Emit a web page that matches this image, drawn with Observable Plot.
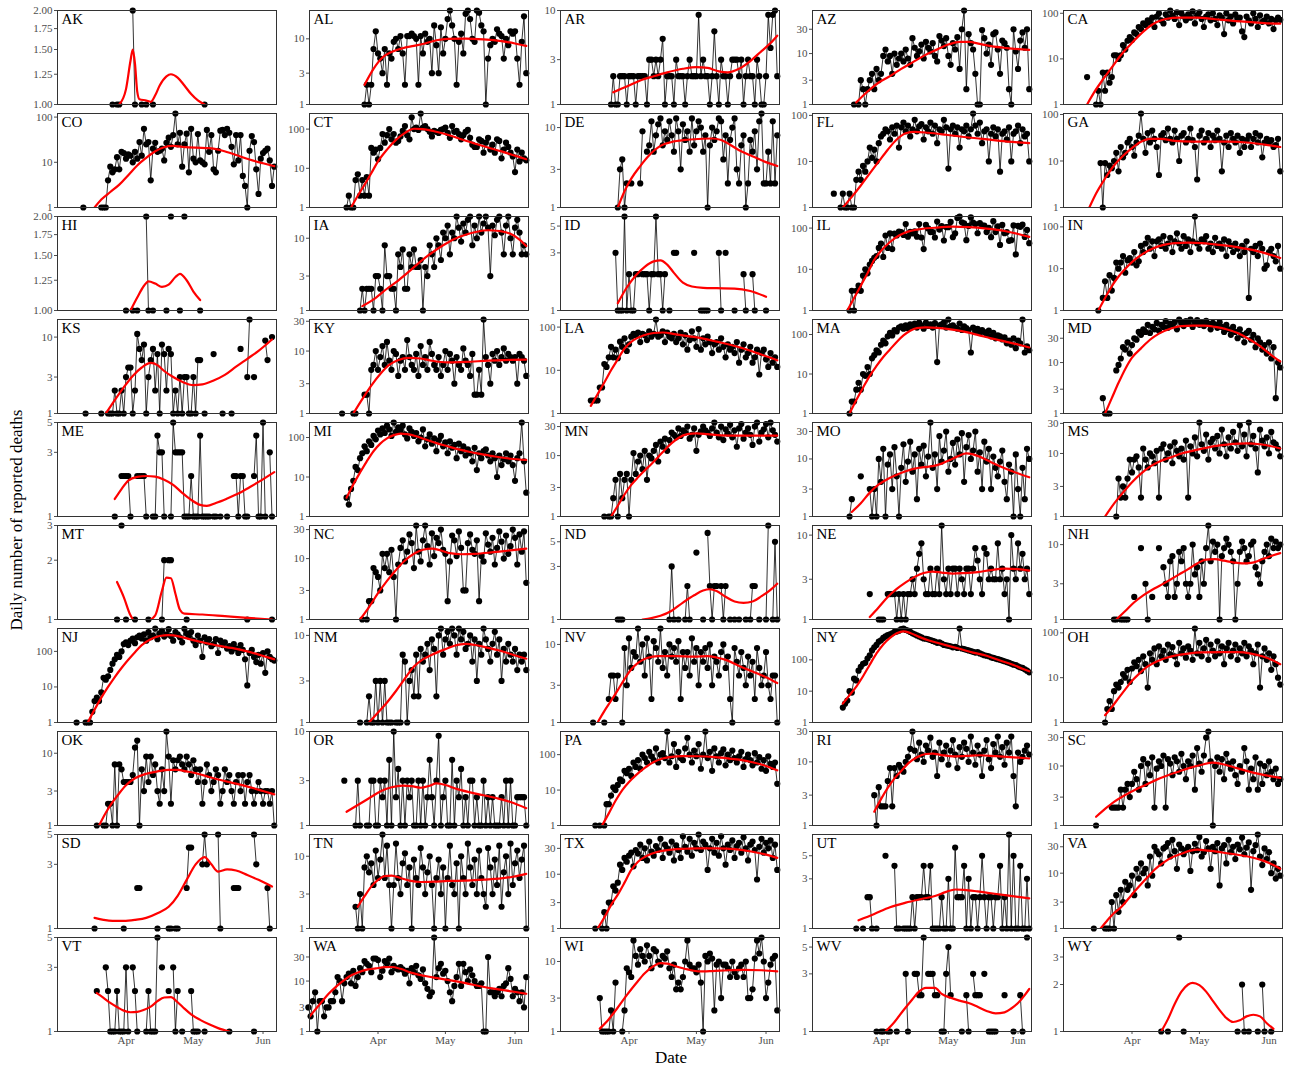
<!DOCTYPE html>
<html><head><meta charset="utf-8">
<script src="https://cdn.jsdelivr.net/npm/d3@7"></script>
<script src="https://cdn.jsdelivr.net/npm/@observablehq/plot@0.6"></script>
<style>
body{margin:0;background:#fff;}
#chart{position:relative;width:1294px;height:1072px;font-family:"Liberation Serif","DejaVu Serif",serif;}
.panel{position:absolute;}
.ytitle{position:absolute;left:17px;top:520px;transform:translate(-50%,-50%) rotate(-90deg);font-size:17px;white-space:nowrap;color:#000;}
.xtitle{position:absolute;left:671px;top:1058px;transform:translate(-50%,-50%);font-size:17px;color:#000;}
</style></head><body><div id="chart"></div>
<script>
const STATES = ["AK","AL","AR","AZ","CA","CO","CT","DE","FL","GA","HI","IA","ID","IL","IN","KS","KY","LA","MA","MD","ME","MI","MN","MO","MS","MT","NC","ND","NE","NH","NJ","NM","NV","NY","OH","OK","OR","PA","RI","SC","SD","TN","TX","UT","VA","VT","WA","WI","WV","WY"];
// first week (Sunday-aligned, week 0 = Mar 1-7 2020) of each daily series
const START_WEEK = [3,3,3,2,1, 1,2,3,1,2, 4,3,3,2,2, 1,2,2,2,2, 3,2,2,2,3, 3,3,3,3,3, 1,3,2,2,2, 2,2,2,4,2, 2,3,2,2,2, 2,0,2,4,6];
const X_TICK_LABELS = ["Apr","May","Jun"];
const TICKS_FRAC = [1,1.25,1.5,1.75,2];
const TICKS_123 = [1,2,3];
const TICKS_135 = [1,3,5];
const TICKS_1_3_10 = [1,3,10];
const TICKS_1_3_10_30 = [1,3,10,30];
const TICKS_1_10_100 = [1,10,100];

// daily reported deaths (0 = no point), 7 values per week
const AK = [0,0,0,0,1,0,1, 1,0,0,0,0,0,2, 1,0,0,1,0,1,0, 0,1,0,0,0,0,0, 0,0,0,0,0,0,0, 0,0,0,0,0,0,0, 0,0,0,1,0,0,0];
const AL = [0,0,0,0,1,2,1, 2,7,13,6,5,3,7, 2,6,5,9,10,7,11, 6,2,11,11,12,11,10, 2,11,6,12,9,10,3, 16,8,3,15,6,10,20, 27,16,10,2,9,12,6, 24,27,20,10,9,27,25, 16,13,1,5,8,10,9, 14,12,11,5,10,8,13, 12,13,5,2,9,22,3];
const AR = [0,0,1,2,1,1,2, 2,2,1,2,2,2,1, 2,2,2,2,1,3,3, 2,3,2,3,5,1,2, 2,2,1,3,2,2,2, 1,2,3,2,2,2,9, 2,3,2,2,1,2,6, 2,1,3,2,2,1,2, 3,3,3,2,3,1,2, 3,2,2,1,3,2,1, 1,2,9,4,9,10,2];
const AZ = [0,0,0,0,0,1,0, 1,3,2,1,2,3,4, 2,5,3,4,9,12,7, 9,4,10,6,8,10,7, 12,8,6,20,13,9,11, 15,8,17,13,11,16,9, 7,22,18,14,20,9,6, 16,12,21,5,30,70,2, 24,16,12,4,1,1,29, 20,10,15,6,24,26,12, 4,18,16,13,2,1,30, 11,5,18,26,13,30,2];
const CA = [0,0,0,0,4,0,0, 0,1,2,1,5,2,5, 3,4,12,12,10,12,20, 16,25,30,26,38,35,50, 45,60,55,70,62,80,50, 85,100,70,60,95,80,115, 90,75,105,55,100,85,70, 95,80,110,60,90,105,75, 50,85,95,70,100,75,55, 90,80,35,100,70,85,60, 95,75,80,40,30,85,70, 60,100,75,50,90,65,70, 85,60,75,45,70,80,72];
const CO = [0,0,0,0,0,1,0, 0,0,0,0,0,0,1, 1,1,4,8,6,7,13, 7,17,16,12,15,14,10, 17,12,28,14,55,25,28, 4,20,27,17,18,20,11, 27,35,22,40,120,25,45, 8,25,43,6,55,12,10, 42,11,10,9,52,17,40, 7,6,18,50,52,40,55, 45,22,9,40,11,40,5, 3,1,18,38,28,7,2, 12,16,18,20,11,3,8];
const CT = [0,0,0,1,2,1,1, 5,7,2,5,2,6,2, 33,25,30,17,33,75,45, 70,100,55,75,45,50,65, 90,120,70,55,200,100,110, 95,250,110,120,100,85,65, 90,85,80,95,100,110,80, 60,120,85,90,75,55,70, 85,95,60,40,35,35,55, 50,25,45,60,30,40,25, 55,50,18,30,45,35,25, 20,8,30,15,25,18,16];
const DE = [0,0,0,0,0,1,3, 4,1,2,0,2,0,0, 0,2,9,0,5,6,12, 5,8,11,13,6,9,7, 12,8,5,13,9,3,11, 7,9,5,13,6,9,12, 10,5,8,1,6,10,7, 9,13,12,4,8,2,7, 10,13,3,2,6,8,1, 2,7,5,9,3,12,15, 2,2,5,2,12,2,8];
const FL = [0,0,0,2,0,0,1, 2,1,1,2,1,1,4, 6,4,8,6,10,20,12, 18,10,25,35,40,50,45, 30,55,40,60,20,55,70, 45,60,35,50,80,45,58, 65,30,55,45,70,40,60, 25,50,45,80,55,7,50, 60,40,55,20,50,45,60, 35,50,110,60,40,70,25, 45,50,10,40,55,35,50, 6,40,45,30,55,10,40, 45,60,25,50,35,40,10];
const GA = [0,0,0,9,1,9,5, 8,7,10,15,6,20,12, 15,25,30,20,13,25,35, 105,30,15,40,25,45,30, 20,5,35,40,28,50,30, 25,45,30,10,35,40,25, 30,50,28,20,4,35,45, 25,30,40,20,35,28,45, 30,6,25,35,20,40,30, 25,35,15,30,20,28,35, 20,30,40,25,35,12,25, 30,25,28,20,22,30,6];
const HI = [0,0,0,1,0,0,1, 0,1,0,0,0,2,1, 0,1,0,0,0,0,0, 1,0,2,0,0,0,1, 0,2,0,0,0,0,0, 0,1,0,0,0,0,0];
const IA = [0,0,1,2,1,2,2, 2,1,3,3,2,1,8, 3,3,2,2,1,6,4, 7,2,2,6,4,7,4, 4,5,1,4,3,8,6, 4,10,8,5,12,10,15, 6,12,10,20,14,9,16, 12,18,20,8,15,10,20, 12,16,20,14,3,15,11, 18,20,12,6,15,20,10, 6,14,18,12,6,8,6];
const ID = [0,0,0,0,3,1,1, 1,6,1,2,1,1,2, 2,0,2,2,2,1,2, 2,6,2,2,1,2,0, 1,0,3,3,0,0,0, 0,0,0,0,3,0,0, 1,1,1,1,0,0,0, 0,3,1,0,3,0,0, 0,1,0,0,0,2,1, 0,0,2,1,0,0,0, 0,1,0,0,0,0,0];
const IL = [0,0,0,1,3,1,3, 4,3,7,10,8,13,16, 19,21,33,42,20,66,33, 74,31,73,66,82,80,68, 125,62,81,74,83,62,125, 59,31,119,98,80,80,59, 144,92,111,50,106,105,141, 60,74,176,191,138,130,51, 113,181,135,125,75,132,117, 115,80,102,60,147,80,110, 39,119,75,80,49,51,116, 23,113,107,121,61,90,43];
const IN = [0,0,1,0,2,5,2, 7,3,6,14,10,14,20, 8,16,18,14,25,12,15, 35,25,40,55,30,45,20, 45,50,35,60,30,40,55, 25,45,70,40,30,60,35, 50,25,45,177,40,30,50, 45,60,30,40,25,55,35, 40,30,50,20,45,35,25, 40,30,20,35,25,45,2, 30,25,35,20,40,30,10, 12,25,30,20,15,35,10];
const KS = [0,0,0,0,0,0,1, 0,0,0,0,0,0,1, 0,0,1,1,1,2,1, 1,2,1,3,4,4,1, 2,11,7,5,8,1,3, 5,7,2,6,1,8,6, 2,7,6,1,2,1,3, 1,3,3,1,1,3,1, 5,5,0,1,0,0,0, 6,0,0,0,1,0,0, 0,1,0,0,0,7,0, 0,3,17,0,3,0,0, 0,0,9,5,0,10,0];
const KY = [0,1,0,0,0,0,1, 1,0,0,0,2,2,1, 5,6,10,5,8,12,6, 14,7,5,10,9,4,7, 8,5,15,8,6,5,9, 4,12,6,8,5,14,9, 6,5,8,4,6,10,5, 9,7,3,8,6,5,11, 7,6,4,9,2,2,5, 2,32,8,6,3,9,7, 10,6,8,11,7,9,8, 7,8,3,9,8,7,4];
const LA = [2,2,2,2,4,4,14, 12,20,35,20,30,19,46, 35,55,28,40,60,70,65, 75,45,70,65,50,80,60, 70,150,60,65,80,45,75, 60,55,70,45,55,75,40, 65,30,50,80,55,35,90, 30,55,40,60,45,25,40, 45,30,55,35,20,40,30, 35,25,45,15,30,40,20, 25,35,15,20,30,8,25, 30,18,12,25,15,20,12];
const MA = [0,0,0,1,2,2,4, 6,4,10,9,15,10,25, 30,40,35,55,70,60,90, 110,95,130,120,150,160,140, 170,145,180,160,190,150,200, 170,140,200,165,180,150,195, 20,170,180,200,150,240,160, 170,150,140,190,130,160,145, 130,35,150,120,140,110,130, 115,100,125,90,110,80,95, 90,75,85,60,70,55,80, 45,70,60,240,35,50,40];
const MD = [0,0,0,0,2,1,1, 1,0,0,7,9,12,20, 18,25,15,22,30,28,40, 35,45,40,55,38,50,45, 60,42,55,50,65,48,58, 55,62,45,70,60,52,65, 58,70,50,62,68,55,60, 52,66,58,45,60,55,48, 62,50,40,55,45,35,50, 40,30,45,35,25,38,42, 28,35,20,30,25,18,22, 15,25,12,20,2,10,8];
const ME = [0,0,0,0,0,1,0, 0,2,2,2,2,1,0, 0,2,2,2,2,1,0, 0,1,1,4,3,3,1, 0,0,1,5,3,3,3, 3,1,1,1,2,1,1, 1,4,1,1,1,1,0, 1,1,0,1,0,0,1, 0,0,2,2,1,2,2, 1,1,0,0,2,4,1, 1,5,1,0,3,1,0];
const MI = [0,0,0,3,2,5,8, 18,15,30,40,60,45,80, 65,110,90,150,120,170,130, 200,160,110,240,140,180,150, 200,120,95,170,140,110,130, 80,100,160,60,90,120,70, 95,45,85,110,60,75,40, 80,55,65,30,70,45,60, 35,50,40,25,55,15,40, 30,45,50,35,25,40,30, 10,35,20,28,40,25,35, 20,8,30,40,240,25,4];
const MN = [0,0,0,0,0,0,1, 0,1,1,2,4,1,5, 2,4,5,1,4,11,5, 8,10,6,12,4,10,9, 12,15,8,17,14,19,12, 18,24,22,20,28,21,26, 24,30,19,22,28,12,22, 25,30,26,24,21,28,35, 24,20,30,18,27,23,32, 20,26,14,28,33,19,24, 28,22,15,30,35,17,24, 27,33,20,35,26,22,17];
const MO = [0,0,0,1,2,0,0, 0,5,0,0,0,3,1, 3,1,10,4,15,1,8, 12,3,16,5,1,7,18, 4,9,20,6,12,2,15, 8,17,5,11,43,7,12, 3,25,9,14,30,6,10, 19,8,22,12,28,4,16, 26,10,14,30,6,13,3, 20,9,15,3,11,7,5, 9,14,4,2,8,6,1, 12,3,1,7,2,15,10];
const MS = [0,0,0,1,4,2,3, 2,4,8,5,8,9,6, 2,12,8,6,10,9,7, 11,2,12,14,8,10,13, 7,15,11,9,12,8,16, 2,13,10,18,9,31,14, 11,20,8,15,17,12,19, 10,24,14,9,18,12,22, 15,11,28,13,20,9,31, 14,19,12,5,24,16,13, 18,10,22,15,14,12,9];
const MT = [0,0,0,0,0,0,1, 0,3,0,1,0,0,0, 1,0,0,0,0,0,1, 0,0,0,0,0,1,2, 0,2,2,0,0,0,0, 0,0,1,0,0,0,0, 0,0,0,0,0,0,0, 0,0,0,0,0,0,0, 0,0,0,0,0,0,0, 0,1,0,0,0,0,0, 0,0,0,0,0,1,0];
const NC = [0,0,0,1,0,1,2, 2,7,6,5,3,12,7, 12,6,14,5,1,8,15, 20,9,13,25,18,7,35, 13,9,20,35,16,8,26, 11,22,18,30,14,12,2, 9,24,20,11,28,15,3, 3,18,25,14,12,20,2, 11,9,26,17,13,22,8, 15,28,19,10,24,12,16, 30,22,8,25,13,28,4];
const ND = [0,0,0,0,0,1,1, 1,0,0,0,0,0,0, 0,0,0,0,0,0,0, 0,0,0,0,0,0,0, 1,3,1,0,1,0,0, 1,2,1,0,0,4,0, 0,1,0,6,2,1,2, 2,0,2,1,2,0,1, 0,1,0,1,0,0,1, 0,1,2,2,0,1,0, 0,1,7,0,1,5,1];
const NE = [0,0,0,0,0,2,0, 0,0,1,1,1,0,2, 2,2,2,1,2,1,2, 1,2,2,3,2,4,6, 8,3,2,2,4,2,2, 4,2,13,3,2,4,2, 4,4,2,4,3,2,4, 4,2,4,7,5,3,2, 7,6,3,4,3,3,8, 3,4,2,3,1,10,4, 3,8,4,6,3,4,2];
const NH = [0,0,1,1,0,1,1, 1,1,0,0,2,0,0, 9,0,3,1,0,2,0, 0,9,0,5,3,2,6, 7,2,3,8,6,9,3, 2,3,10,4,5,2,6, 3,9,18,6,11,8,10, 1,7,9,12,10,8,6, 1,3,8,11,9,6,7, 10,11,5,4,3,6,8, 10,7,12,9,11,9,10];
const NJ = [0,0,1,0,0,0,1, 1,1,2,4,5,4,7, 18,16,20,30,45,60,80, 70,100,160,180,150,200,230, 170,250,280,230,300,200,350, 250,280,440,220,320,380,260, 300,420,270,200,350,300,250, 180,430,320,260,350,200,150, 280,200,70,250,180,220,140, 160,220,90,200,150,180,120, 140,100,160,120,90,150,110, 60,11,90,110,70,50,80, 45,90,25,100,70,60,55];
const NM = [0,0,1,0,0,1,2, 1,1,3,1,3,1,3, 1,1,1,0,1,1,1, 6,5,1,3,4,2,6, 2,7,5,6,8,4,9, 7,2,10,12,6,9,11, 8,12,10,6,12,9,11, 7,8,10,5,9,3,8, 6,12,9,7,5,8,11, 6,9,3,7,5,8,6, 5,7,4,6,5,6,4];
const NV = [0,1,0,0,0,0,1, 0,2,4,4,2,4,0, 1,9,3,12,5,8,7, 16,6,10,4,12,7,2, 11,9,6,16,5,8,4, 10,7,9,6,11,2,8, 5,8,4,12,6,9,3, 8,6,9,5,10,3,7, 6,4,8,10,5,7,2, 1,9,6,4,8,5,3, 7,4,6,2,9,5,3, 4,8,3,2,4,4,1];
const NY = [3,4,5,10,9,25,22, 45,60,75,80,110,140,200, 250,300,380,420,500,560,620, 650,700,780,800,850,950,1000, 900,850,780,700,650,600,560, 520,480,470,450,430,400,380, 350,360,330,300,290,280,270, 250,260,240,1000,230,220,210, 200,190,180,170,175,160,150, 140,135,130,120,115,110,105, 100,95,90,85,80,75,70, 68,62,58,55,50,45,40];
const OH = [0,0,0,0,0,1,2, 3,2,5,7,6,8,12, 10,15,8,16,22,18,25, 14,30,20,6,35,25,45, 20,50,30,40,25,55,33, 48,30,20,60,35,45,28, 50,40,25,125,35,60,30, 45,70,25,55,40,30,65, 35,50,20,45,60,30,40, 55,25,45,35,60,30,50, 40,20,35,55,6,30,45, 25,35,15,30,20,10,7];
const OK = [0,0,0,0,1,0,0, 1,1,2,2,1,7,1, 7,6,4,4,4,4,5, 12,15,1,6,3,9,4, 9,5,7,3,2,6,3, 20,9,2,8,6,8,9, 7,6,9,7,5,8,6, 4,6,2,4,7,5,3, 4,6,5,2,3,6,4, 5,3,2,4,5,3,5, 2,4,5,3,2,3,4, 3,2,3,3,2,3,1];
const OR = [0,0,3,0,0,0,0, 1,3,1,0,0,1,1, 3,3,1,1,3,2,3, 1,5,1,10,2,4,1, 3,1,3,2,3,1,1, 3,1,3,1,2,5,2, 1,3,9,1,2,3,1, 1,5,1,3,2,4,1, 2,1,3,3,1,2,1, 1,3,1,2,1,2,1, 1,1,2,1,3,1,3, 1,1,2,2,2,2,1];
const PA = [0,0,1,0,1,0,1, 4,4,7,12,10,14,20, 18,35,30,40,25,60,45, 70,40,100,80,60,120,90, 70,150,60,100,110,80,450, 60,90,200,45,120,80,70, 150,300,100,60,130,90,200, 40,100,450,80,120,35,150, 90,60,110,140,50,100,70, 130,80,60,90,120,45,75, 100,70,50,110,60,85,40, 70,35,90,55,45,60,15];
const RI = [3,1,4,2,2,2,5, 8,2,8,6,9,8,7, 10,12,16,30,15,11,20, 13,10,18,15,24,12,14, 6,20,11,14,18,9,15, 22,13,8,17,12,20,16, 10,25,14,9,18,13,6, 15,22,11,8,19,14,25, 12,17,9,20,14,25,6, 2,14,10,12,15,18,13];
const SC = [0,1,0,0,0,0,0, 0,2,2,2,2,4,2, 4,5,3,5,8,6,4, 10,13,5,11,7,14,2, 9,12,10,15,2,13,11, 7,14,12,8,16,10,6, 12,10,15,4,20,11,8, 15,30,38,12,1,10,14, 8,13,6,16,11,9,12, 7,5,10,8,20,12,4, 9,6,14,4,11,5,10, 7,12,8,6,9,5,6];
const SD = [0,0,0,1,0,0,0, 0,0,0,0,0,0,0, 0,0,1,0,0,0,0, 0,2,2,0,0,0,0, 0,0,0,1,0,0,0, 0,1,1,0,1,1,0, 0,0,2,4,4,0,0, 0,0,3,5,3,0,0, 0,0,5,1,0,0,0, 0,0,2,2,2,0,0, 0,0,0,0,5,3,0, 0,0,0,2,1,0,0];
const TN = [2,1,3,1,7,10,6, 8,4,12,5,9,20,5, 14,4,1,4,15,5,3, 8,11,4,7,1,9,5, 4,13,7,3,6,10,4, 1,5,9,3,7,1,5, 14,4,3,8,1,10,5, 3,15,7,4,9,3,12, 5,3,2,13,7,3,9, 4,14,2,6,10,3,15, 4,8,12,5,9,14,1];
const TX = [0,0,1,0,0,1,2, 1,3,3,6,5,7,15, 12,20,17,22,25,14,28, 24,35,20,30,18,40,26, 22,33,28,45,20,35,30, 25,40,18,34,28,20,50, 32,26,45,22,38,30,54, 28,40,35,12,30,45,25, 38,22,50,30,15,35,28, 42,20,33,38,25,48,30, 18,35,40,28,8,32,45, 25,38,30,42,20,35,12];
const UT = [0,0,0,0,0,0,1, 0,0,1,0,2,2,1, 0,1,0,0,0,5,0, 0,0,4,1,1,0,1, 1,1,1,2,1,2,2, 2,4,2,2,4,1,1, 1,1,2,1,1,3,1, 1,6,2,2,2,4,1, 3,1,2,2,1,2,5, 2,1,2,2,1,2,2, 4,1,2,1,8,1,5, 1,1,4,1,1,3,1];
const VA = [1,0,0,0,0,1,1, 1,3,1,4,2,5,3, 7,5,6,9,4,12,8, 15,10,12,6,20,9,30, 25,22,15,28,30,35,20, 40,25,12,33,28,22,26, 30,11,25,34,26,45,20, 24,38,28,12,30,25,35, 6,28,32,15,40,24,30, 18,33,27,44,22,29,36, 5,25,32,50,20,14,28, 18,24,10,15,8,12,9];
const VT = [0,0,0,0,2,0,0, 0,3,2,1,1,1,2, 1,1,1,3,1,0,3, 2,1,0,0,0,1,2, 1,1,1,5,0,3,0, 0,2,0,3,1,2,0, 1,0,0,0,2,1,1, 1,0,0,1,0,0,0, 0,0,0,0,0,0,0, 1,0,0,0,0,0,0, 0,0,0,0,1,0,0];
const WA = [3,2,4,6,1,4,4, 2,3,3,4,4,6,12, 10,4,9,12,14,9,16, 8,12,18,15,25,22,20, 15,28,28,26,12,16,25, 22,28,15,20,18,17,19, 17,14,16,9,18,15,20, 13,11,17,9,7,5,6, 73,12,18,22,14,16,10, 6,4,8,12,22,8,22, 15,10,17,13,10,8,8, 9,1,1,30,6,6,5, 6,7,5,8,9,18,11, 5,7,6,4,6,3,12];
const WI = [0,0,0,0,3,1,1, 1,1,2,1,5,0,0, 1,2,8,7,6,20,12, 9,15,12,10,17,12,8, 15,14,10,9,12,11,14, 8,6,9,4,5,4,6, 10,20,9,8,8,7,9, 5,1,12,10,13,11,2, 9,10,3,9,9,8,6, 10,7,6,8,9,6,10, 3,3,4,11,20,13,22, 10,3,5,9,11,12,2];
const WV = [0,1,0,1,1,0,1, 1,0,0,1,0,0,0, 3,1,0,0,3,3,2, 2,6,0,3,3,3,2, 2,0,1,1,3,5,2, 0,0,0,0,1,0,2, 1,0,3,2,2,2,0, 3,0,1,1,1,1,0, 0,0,2,0,0,0,1, 0,0,2,1,0,6,0];
const WY = [0,0,1,0,0,1,0, 0,0,0,4,0,1,0, 0,0,0,0,0,0,0, 0,0,0,0,0,0,0, 0,0,0,0,0,0,0, 0,1,0,2,1,0,1, 0,0,0,1,0,2,1, 0,0,1,0,0,0,0];
const SERIES = [AK,AL,AR,AZ,CA,CO,CT,DE,FL,GA,HI,IA,ID,IL,IN,KS,KY,LA,MA,MD,ME,MI,MN,MO,MS,MT,NC,ND,NE,NH,NJ,NM,NV,NY,OH,OK,OR,PA,RI,SC,SD,TN,TX,UT,VA,VT,WA,WI,WV,WY];

// smoothed fits: [day since Mar 1, value]
const AK_FIT = [[28,1.0],[31,1.12],[33,1.38],[34,1.5],[35,1.35],[36,1.1],[37,1.04],[40,1.03],[42,1.02],[44,1.07],[46,1.15],[49,1.23],[51,1.25],[54,1.22],[57,1.15],[60,1.08],[63,1.03],[66,1.0]];
const AL_FIT = [[25,2],[29,3.5],[33,5.2],[37,6.3],[42,7.2],[47,7.8],[52,8.5],[57,9.5],[62,10],[70,10.1],[78,9.8],[86,9.2],[92,8.5],[97,7.8]];
const AR_FIT = [[24,1.35],[30,1.55],[36,1.8],[42,2.0],[48,2.2],[55,2.4],[61,2.5],[66,2.45],[71,2.25],[75,2.2],[80,2.4],[85,2.9],[90,3.7],[94,4.5],[97,5.4]];
const AZ_FIT = [[20,1.1],[25,1.8],[30,2.7],[35,3.6],[40,5],[45,6.7],[50,9],[55,11.5],[60,14.5],[66,17],[70,17],[75,15.5],[80,14],[87,12.8],[97,11.8]];
const CA_FIT = [[11,1],[14,1.8],[18,3.5],[22,6.5],[26,12],[30,20],[34,32],[38,48],[42,64],[46,75],[52,80],[60,80],[68,74],[76,68],[84,64],[92,60],[97,59]];
const CO_FIT = [[17,1],[20,1.5],[24,2.2],[28,3.2],[32,5.2],[36,8.5],[40,12.5],[44,17.5],[48,21.5],[52,23],[56,22],[62,21],[68,20.5],[74,18],[80,14.5],[86,11.5],[92,9.5],[97,8.2]];
const CT_FIT = [[19,1],[22,2],[25,3.8],[28,7.5],[31,15],[35,30],[39,53],[43,80],[47,102],[51,100],[56,88],[62,72],[68,55],[74,43],[80,34],[86,27],[92,21],[97,17]];
const DE_FIT = [[26,1],[29,1.6],[32,2.3],[36,3.3],[40,4.5],[45,5.9],[50,6.6],[56,7],[62,7.2],[68,7.3],[72,7],[76,6.1],[80,5.2],[85,4.5],[90,3.9],[97,3.3]];
const FL_FIT = [[14,1],[18,1.7],[22,3],[26,5.5],[30,10],[34,18],[38,30],[42,41],[46,44],[52,42],[60,38],[68,34],[76,31],[84,28],[92,26],[97,25]];
const GA_FIT = [[12,1],[15,2],[19,4.2],[23,8],[27,13],[31,19],[35,26],[39,30],[44,30],[50,27],[58,26],[66,26],[74,26],[82,25],[90,22.5],[97,20]];
const HI_FIT = [[33,1.0],[36,1.1],[39,1.2],[41,1.24],[44,1.22],[47,1.19],[50,1.21],[53,1.28],[55,1.31],[58,1.25],[61,1.15],[64,1.08]];
const IA_FIT = [[24,1.15],[30,1.5],[35,2],[40,2.6],[45,3.5],[50,4.8],[55,6.3],[60,8],[65,9.8],[70,11.2],[75,12.3],[80,12.9],[85,12.6],[90,11.5],[94,9.6],[97,7.8]];
const ID_FIT = [[26,1.15],[30,1.55],[34,1.95],[38,2.3],[42,2.55],[45,2.6],[48,2.4],[51,2.05],[55,1.7],[59,1.58],[64,1.54],[70,1.53],[78,1.52],[85,1.45],[92,1.3]];
const IL_FIT = [[16,1],[19,2],[22,4],[25,8],[28,17],[31,28],[35,46],[39,66],[43,82],[47,92],[55,102],[63,108],[70,105],[78,97],[86,85],[92,72],[97,61]];
const IN_FIT = [[16,1],[19,2],[22,3.8],[25,6.5],[28,10],[32,16],[36,23],[40,30],[45,37],[50,41],[56,42],[62,41],[68,38],[74,35],[80,31],[86,27],[92,22],[97,18]];
const KS_FIT = [[22,1],[26,1.5],[30,2.2],[34,3.1],[38,4],[42,4.6],[45,4.3],[48,3.6],[52,3],[56,2.6],[61,2.35],[65,2.4],[70,2.7],[75,3.2],[80,4.1],[85,5.2],[90,6.6],[96,9.3]];
const KY_FIT = [[20,1],[24,1.7],[28,2.8],[32,4.3],[36,6],[40,7.2],[45,7.8],[50,7.6],[55,7],[62,6.6],[70,6.7],[80,7],[90,7.2],[97,7.3]];
const LA_FIT = [[14,1.5],[17,2.8],[20,5.2],[23,10],[26,18],[29,32],[33,50],[37,63],[42,73],[46,75],[52,68],[58,61],[64,54],[70,46],[76,39],[82,32],[88,25],[94,19.5],[97,17]];
const MA_FIT = [[17,1],[20,2.2],[23,4.5],[26,9],[29,16],[32,27],[35,42],[38,65],[41,95],[44,125],[47,145],[51,152],[56,148],[62,135],[68,118],[74,98],[80,80],[86,67],[92,56],[97,47]];
const MD_FIT = [[19,1],[22,2],[25,4],[28,7.5],[31,12.5],[35,19],[39,28],[43,37],[48,46],[53,52],[58,53],[63,53],[68,50],[73,45],[78,38],[83,29],[88,21],[93,14],[97,10.5]];
const ME_FIT = [[26,1.35],[29,1.6],[32,1.85],[36,1.97],[40,2.0],[44,1.98],[48,1.88],[52,1.72],[56,1.5],[60,1.33],[64,1.22],[67,1.2],[71,1.26],[76,1.36],[81,1.48],[86,1.65],[91,1.85],[97,2.14]];
const MI_FIT = [[17,3],[20,6.5],[23,13],[26,25],[29,45],[32,70],[35,95],[38,115],[41,126],[44,122],[48,108],[52,90],[57,72],[62,60],[67,50],[72,43],[77,38],[83,33],[90,29],[97,27]];
const MN_FIT = [[23,1],[26,1.5],[29,2.3],[32,3.3],[35,4.4],[38,5.7],[41,7.3],[44,9.5],[47,12.5],[50,16],[53,19.5],[57,22.5],[61,23.2],[66,22.5],[72,21.5],[80,21.3],[90,21.3],[97,21.3]];
const MO_FIT = [[18,1.2],[22,1.7],[26,2.6],[30,3.6],[34,4.5],[38,5.3],[42,6.1],[46,6.8],[50,7.2],[54,7.5],[58,8.3],[62,9.7],[66,11.5],[69,12.5],[72,12],[76,10.5],[80,8.8],[85,7.2],[90,6],[97,4.8]];
const MS_FIT = [[19,1],[23,1.6],[27,2.4],[31,3.5],[35,4.8],[39,6.2],[43,7.4],[48,8.6],[53,10],[58,11],[64,12.3],[70,13.4],[76,14.2],[82,14.5],[88,14],[93,13],[97,12]];
const MT_FIT = [[27,1.55],[30,1.3],[33,1.05],[35,0.98],[40,0.98],[44,1.05],[47,1.4],[49,1.63],[51,1.62],[53,1.35],[55,1.12],[57,1.07],[65,1.06],[75,1.04],[85,1.02],[96,1.0]];
const NC_FIT = [[23,1],[27,1.6],[31,2.7],[35,4.3],[39,6.5],[43,9.3],[47,12],[51,14],[55,14.6],[59,13.6],[63,12.3],[68,11.8],[74,12],[80,12.5],[86,13.2],[92,13.9],[97,14.6]];
const ND_FIT = [[37,1.0],[41,1.03],[45,1.08],[50,1.2],[55,1.42],[60,1.65],[64,1.82],[67,1.87],[70,1.8],[74,1.6],[78,1.45],[82,1.41],[86,1.45],[90,1.62],[94,1.85],[97,2.1]];
const NE_FIT = [[26,1.07],[30,1.4],[34,1.85],[38,2.3],[42,2.75],[46,3.2],[50,3.55],[54,3.7],[58,3.6],[63,3.5],[68,3.55],[74,3.65],[80,3.85],[86,4.0],[92,3.95],[97,3.8]];
const NH_FIT = [[24,1],[28,1.3],[32,1.7],[36,2.1],[40,2.5],[44,2.9],[48,3.4],[52,4],[56,4.7],[60,5.6],[64,6.3],[68,6.4],[72,6.1],[76,5.8],[80,5.6],[84,5.7],[88,6.2],[92,6.9],[97,7.7]];
const NJ_FIT = [[14,1],[17,2.3],[20,5],[23,10],[26,19],[29,34],[32,58],[35,95],[38,150],[42,220],[46,270],[50,285],[55,260],[60,215],[66,175],[72,145],[78,125],[85,100],[91,78],[97,60]];
const NM_FIT = [[27,1],[31,1.3],[35,1.7],[39,2.3],[43,3.2],[47,4.4],[51,5.3],[55,6],[60,6.8],[65,7.6],[70,8],[75,7.7],[80,7.2],[85,6.7],[91,6],[97,5.4]];
const NV_FIT = [[17,1],[20,1.4],[23,1.9],[26,2.6],[29,3.6],[32,4.8],[35,5.8],[39,6.7],[44,7.1],[52,7.1],[60,7],[66,7.1],[70,6.8],[75,6.2],[80,5.3],[86,4.5],[92,3.8],[97,3.2]];
const NY_FIT = [[14,4],[17,7.5],[20,14],[23,30],[26,70],[29,160],[32,310],[35,500],[38,700],[41,810],[44,720],[48,540],[52,420],[56,350],[61,280],[66,225],[72,170],[78,135],[84,95],[90,68],[94,52],[97,43]];
const OH_FIT = [[19,1.45],[22,2.2],[25,3.5],[28,5.5],[31,8.5],[34,12],[38,17.8],[42,23],[46,27.5],[50,31],[56,34.5],[62,36.5],[70,37],[78,37],[84,34.5],[89,30],[94,24],[97,20]];
const OK_FIT = [[19,1],[22,1.5],[25,2.1],[28,2.8],[31,3.6],[35,4.5],[40,5.2],[45,5.6],[50,5.9],[54,5.9],[58,5.6],[63,5.2],[68,4.7],[74,4.2],[80,3.8],[86,3.4],[92,3],[97,2.7]];
const OR_FIT = [[17,1.4],[22,1.65],[27,1.95],[32,2.3],[37,2.55],[42,2.66],[46,2.62],[50,2.52],[54,2.65],[57,2.8],[61,2.7],[66,2.45],[72,2.25],[78,2.1],[84,1.95],[90,1.78],[97,1.53]];
const PA_FIT = [[19,1],[22,2.2],[25,5],[28,10],[31,17],[34,26],[38,42],[42,62],[46,78],[50,87],[55,91],[62,90],[68,87],[74,80],[80,72],[86,61],[92,48],[97,36]];
const RI_FIT = [[28,1.65],[31,2.6],[34,3.9],[37,5.5],[40,7.2],[43,9.4],[47,11.8],[51,13.3],[54,13.5],[58,12.8],[63,12.2],[69,12.4],[75,12.7],[82,12.3],[90,11.8],[97,11.3]];
const SC_FIT = [[15,1.4],[19,1.9],[23,2.5],[27,3.1],[32,3.9],[37,4.8],[42,5.9],[47,7],[52,8.1],[57,9.4],[62,10.5],[67,11.4],[71,10.8],[76,9.6],[82,8.3],[88,7.3],[93,6.7],[97,6.3]];
const SD_FIT = [[17,1.2],[21,1.16],[25,1.14],[30,1.14],[35,1.16],[40,1.2],[45,1.3],[50,1.45],[54,1.75],[58,2.3],[62,3.0],[66,3.4],[69,3.0],[72,2.65],[76,2.75],[80,2.7],[85,2.5],[90,2.3],[96,2.05]];
const TN_FIT = [[22,2],[25,2.8],[28,3.8],[31,4.7],[34,5.3],[37,5.4],[41,5],[45,4.6],[50,4.4],[56,4.45],[62,4.55],[70,4.6],[78,4.75],[85,4.9],[91,5.2],[97,5.7]];
const TX_FIT = [[17,1],[20,1.6],[23,2.7],[26,4.2],[29,7],[32,12],[35,17],[39,22],[44,26],[50,28.5],[56,29.5],[62,30],[70,30],[78,29],[86,26],[92,23],[97,20]];
const UT_FIT = [[21,1.2],[28,1.38],[35,1.6],[42,1.77],[49,1.92],[55,2.05],[60,2.25],[64,2.37],[68,2.35],[74,2.27],[80,2.18],[87,2.08],[93,2.0],[97,1.95]];
const VA_FIT = [[17,1],[20,1.4],[23,1.9],[26,2.4],[29,3.3],[32,4.6],[35,6.3],[38,8.5],[41,11.5],[45,15.5],[49,19.5],[53,22.5],[57,25.5],[60,26.6],[65,25.5],[71,23.7],[78,21.5],[85,19],[90,16.5],[94,14],[97,12]];
const VT_FIT = [[18,1.93],[21,1.78],[24,1.63],[27,1.52],[30,1.43],[33,1.39],[36,1.4],[39,1.45],[42,1.53],[45,1.68],[48,1.79],[51,1.8],[54,1.65],[57,1.48],[60,1.34],[64,1.22],[68,1.13],[72,1.06],[77,1.0]];
const WA_FIT = [[0,1.85],[3,2.7],[6,3.9],[9,5.6],[12,7.5],[15,9.7],[18,12.2],[22,14.8],[26,16.8],[30,17.8],[34,18.8],[37,19],[41,17.5],[46,14.5],[52,12.6],[58,11.3],[64,10.2],[70,9.1],[77,7.8],[84,6.9],[91,6.2],[97,5.6]];
const WI_FIT = [[18,1.1],[22,1.5],[26,2.2],[30,3.3],[34,4.8],[38,6.8],[42,8.6],[45,9.5],[48,9.3],[52,8.5],[57,7.7],[62,7.2],[68,7.3],[75,7.5],[82,7.6],[90,7.5],[97,7.2]];
const WV_FIT = [[33,1.0],[37,1.2],[41,1.5],[45,1.85],[48,2.15],[51,2.3],[55,2.3],[58,2.05],[62,1.9],[66,1.8],[70,1.72],[74,1.6],[78,1.48],[82,1.41],[86,1.44],[89,1.55],[92,1.72],[95,2.0],[97,2.25]];
const WY_FIT = [[44,1.0],[47,1.2],[50,1.5],[53,1.8],[56,2.0],[58,2.05],[61,1.98],[64,1.8],[67,1.57],[70,1.37],[73,1.22],[76,1.15],[79,1.18],[82,1.25],[85,1.28],[88,1.25],[91,1.13],[94,1.04]];
const FITS = [AK_FIT,AL_FIT,AR_FIT,AZ_FIT,CA_FIT,CO_FIT,CT_FIT,DE_FIT,FL_FIT,GA_FIT,HI_FIT,IA_FIT,ID_FIT,IL_FIT,IN_FIT,KS_FIT,KY_FIT,LA_FIT,MA_FIT,MD_FIT,ME_FIT,MI_FIT,MN_FIT,MO_FIT,MS_FIT,MT_FIT,NC_FIT,ND_FIT,NE_FIT,NH_FIT,NJ_FIT,NM_FIT,NV_FIT,NY_FIT,OH_FIT,OK_FIT,OR_FIT,PA_FIT,RI_FIT,SC_FIT,SD_FIT,TN_FIT,TX_FIT,UT_FIT,VA_FIT,VT_FIT,WA_FIT,WI_FIT,WV_FIT,WY_FIT];

function ticksFor(max) {
  if (max <= 2) return TICKS_FRAC;
  if (max <= 4) return TICKS_123;
  if (max < 10) return TICKS_135;
  if (max < 30) return TICKS_1_3_10;
  if (max < 100) return TICKS_1_3_10_30;
  return TICKS_1_10_100;
}
const day = d => new Date(Date.UTC(2020, 2, 1 + d));
const X_DOMAIN = [new Date(Date.UTC(2020, 2, 1, 12)), new Date(Date.UTC(2020, 5, 7, 0))];
const X_TICKS = X_TICK_LABELS.map((_, k) => new Date(Date.UTC(2020, 3 + k, 1)));
const FONT = '"Liberation Serif","DejaVu Serif",serif';

const chart = document.getElementById("chart");
const PW = 219, PH = 94;
STATES.forEach((st, i) => {
  const r = Math.floor(i / 5), c = i % 5;
  const L = 57 + 251.5 * c, T = 10 + 103 * r;
  const last = r === 9;
  const ml = 44, mr = 6, mt = 6, mb = last ? 28 : 6;
  const vals = SERIES[i];
  const s0 = START_WEEK[i] * 7;
  const rows = vals.map((v, k) => ({date: day(s0 + k), v: v > 0 ? v : NaN}));
  const pts = rows.filter(d => d.v > 0);
  const fit = FITS[i].map(([d, v]) => ({date: day(d), v}));
  const ymax = d3.max(vals);
  const ticks = ticksFor(ymax);
  const fmt = ticks === TICKS_FRAC ? d3.format(".2f") : d3.format("d");
  const svg = Plot.plot({
    width: PW + ml + mr, height: PH + mt + mb,
    marginLeft: ml, marginRight: mr, marginTop: mt, marginBottom: mb,
    style: {fontFamily: FONT, fontSize: "11px", color: "#4d4d4d", background: "transparent", overflow: "visible"},
    x: {type: "utc", domain: X_DOMAIN, axis: last ? "bottom" : null, ticks: X_TICKS,
        tickFormat: d => X_TICK_LABELS[d.getUTCMonth() - 3], tickSize: 3, tickPadding: 2, label: null},
    y: {type: "log", domain: [1, ymax], ticks, tickFormat: fmt, tickSize: 3, tickPadding: 2, label: null},
    marks: [
      Plot.line(rows, {x: "date", y: "v", stroke: "black", strokeWidth: 0.8}),
      Plot.dot(pts, {x: "date", y: "v", r: 3.1, fill: "black", stroke: "none"}),
      Plot.line(fit, {x: "date", y: "v", stroke: "#ff0000", strokeWidth: 2.2, curve: "monotone-x", clip: true}),
      Plot.frame({stroke: "#333333", strokeWidth: 1}),
      Plot.text([st], {frameAnchor: "top-left", dx: 4, dy: 3, text: d => d, fontSize: 15, fill: "black",
        textAnchor: "start", lineAnchor: "top", fontFamily: FONT})
    ]
  });
  const div = document.createElement("div");
  div.className = "panel";
  div.style.left = (L - ml) + "px";
  div.style.top = (T - mt) + "px";
  div.appendChild(svg);
  chart.appendChild(div);
});
const yt = document.createElement("div"); yt.className = "ytitle"; yt.textContent = "Daily number of reported deaths"; chart.appendChild(yt);
const xt = document.createElement("div"); xt.className = "xtitle"; xt.textContent = "Date"; chart.appendChild(xt);
</script></body></html>
